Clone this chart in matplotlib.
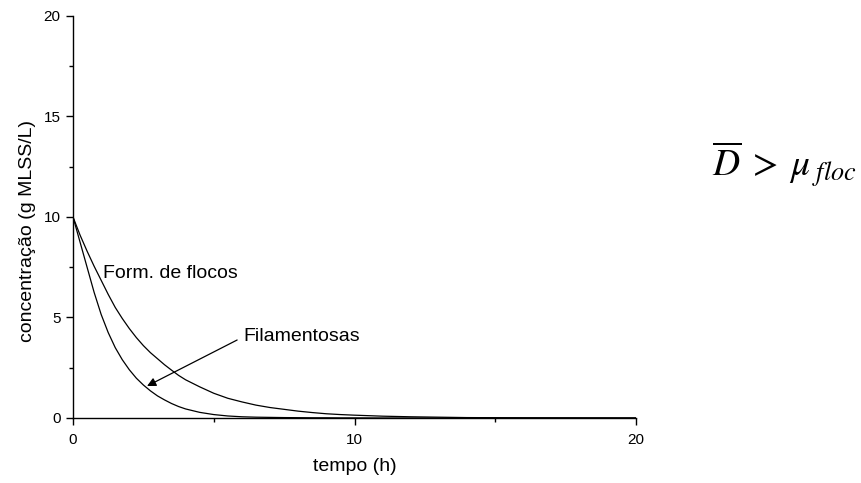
import matplotlib
matplotlib.use("Agg")
import matplotlib.pyplot as plt
from matplotlib.ticker import MultipleLocator

plt.rcParams['font.family'] = ['Liberation Sans', 'DejaVu Sans']
plt.rcParams['mathtext.fontset'] = 'stix'

# time (h) and biomass concentration (g MLSS/L) for the two populations
tempo = [0, 0.25, 0.5, 0.75, 1, 1.25, 1.5, 1.75, 2, 2.25, 2.5, 2.75, 3, 3.25, 3.5,
         3.75, 4, 4.5, 5, 5.5, 6, 6.5, 7, 7.5, 8, 8.5, 9, 9.5, 10, 11, 12, 13, 14,
         15, 16, 18, 20]
form_flocos = [10, 9.1, 8.3, 7.55, 6.85, 6.15, 5.5, 4.95, 4.45, 4.0, 3.6, 3.25, 2.95,
               2.65, 2.38, 2.12, 1.9, 1.55, 1.23, 0.98, 0.8, 0.64, 0.52, 0.43, 0.34,
               0.27, 0.21, 0.17, 0.14, 0.09, 0.06, 0.04, 0.02, 0.015, 0.01, 0.005, 0.0]
filamentosas = [10, 8.75, 7.5, 6.25, 5.15, 4.25, 3.5, 2.9, 2.4, 1.98, 1.64, 1.35, 1.1,
                0.9, 0.72, 0.57, 0.45, 0.28, 0.17, 0.1, 0.06, 0.04, 0.03, 0.02, 0.015,
                0.01, 0.01, 0.005, 0.005, 0, 0, 0, 0, 0, 0, 0, 0]

fig = plt.figure(figsize=(8.61, 4.83), dpi=100)
ax = fig.add_axes([0.0848, 0.1346, 0.6539, 0.8323])

ax.plot(tempo, form_flocos, color='black', lw=0.9)
ax.plot(tempo, filamentosas, color='black', lw=0.9)

ax.set_xlim(0, 20)
ax.set_ylim(0, 20)
ax.xaxis.set_major_locator(MultipleLocator(10))
ax.xaxis.set_minor_locator(MultipleLocator(5))
ax.yaxis.set_major_locator(MultipleLocator(5))
ax.yaxis.set_minor_locator(MultipleLocator(2.5))

for s in ('top', 'right'):
    ax.spines[s].set_visible(False)
for s in ('left', 'bottom'):
    ax.spines[s].set_linewidth(1.0)

ax.tick_params(which='major', direction='out', length=5, width=1, labelsize=11)
ax.tick_params(axis='x', which='major', pad=6)
ax.tick_params(axis='y', which='major', pad=4)
ax.tick_params(which='minor', direction='out', length=3, width=1)

ax.set_xlabel('tempo (h)', fontsize=14, labelpad=8)
ax.set_ylabel('concentração (g MLSS/L)', fontsize=14)
ax.yaxis.set_label_coords(-0.066, 0.465)

ax.text(1.07, 7.2, 'Form. de flocos', fontsize=14, va='center', ha='left')
ax.text(6.04, 4.03, 'Filamentosas', fontsize=14, va='center', ha='left')
ax.annotate('', xy=(2.63, 1.59), xytext=(5.83, 3.88),
            arrowprops=dict(arrowstyle='-|>', color='black', lw=0.9,
                            mutation_scale=13, shrinkA=0, shrinkB=0))

fig.text(0.9105, 0.66, r'$\overline{D}\;>\;\mu_{\;floc}$', fontsize=27,
         ha='center', va='center')

fig.savefig('out.png', dpi=100)
